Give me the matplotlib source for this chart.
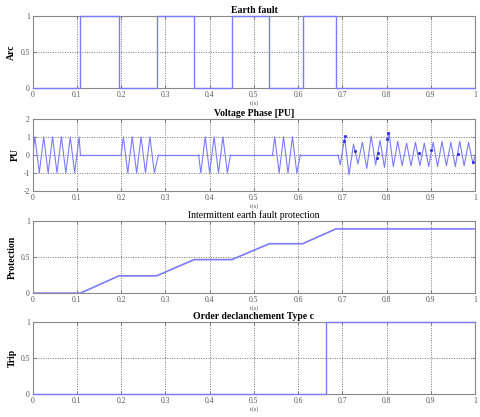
import numpy as np
import matplotlib
matplotlib.use('Agg')
import matplotlib.pyplot as plt

plt.rcParams['font.family'] = ['Liberation Serif', 'DejaVu Serif']
plt.rcParams['axes.unicode_minus'] = False

LINE = '#7b7bff'

# earth fault on/off switching times (s)
fault_on = [0.108, 0.280, 0.450, 0.610]
fault_off = [0.195, 0.365, 0.535, 0.685]

# voltage segments: start, end, and peak value of every half cycle (50 Hz)
seg_start = [0.000, 0.200, 0.375, 0.542, 0.690]
seg_end = [0.108, 0.284, 0.447, 0.605, 1.000]
seg_peaks = [
    [1, -1, 1, -1, 1, -1, 1, -1, 1, -1, 1],
    [1, -1, 1, -1, 1, -1, 1, -1],
    [-1, 1, -1, 1, -1, 1, -1],
    [1, -1, 1, -1, 1, -1],
    [-0.55, 0.95, -1.1, 0.6, -0.5, 0.7, -0.75, 1.05, -0.55, 0.8, -0.7,
     1.25, -0.65, 0.75, -0.6, 0.65, -0.6, 0.7, -0.6, 0.65, -0.65, 0.7,
     -0.65, 0.75, -0.6, 0.7, -0.65, 0.75, -0.6, 0.7, -0.5],
]
# transient spikes after re-energising
spike_t = [0.703, 0.706, 0.728, 0.778, 0.781, 0.800, 0.803, 0.872, 0.899, 0.962, 0.996]
spike_v = [0.75, 1.05, 0.2, -0.15, 0.1, 0.9, 1.2, 0.1, 0.3, 0.05, -0.4]

# protection integrator: breakpoints
prot_t = [0.0, 0.108, 0.195, 0.280, 0.365, 0.450, 0.535, 0.610, 0.685, 1.0]
prot_v = [0.0, 0.0, 0.24, 0.24, 0.465, 0.465, 0.685, 0.685, 0.89, 0.89]

# trip order
trip_time = 0.663

titles = ['Earth fault', 'Voltage Phase [PU]',
          'Intermittent earth fault protection', 'Order declanchement Type c']
ylabels = ['Arc', 'PU', 'Protection', 'Trip']

fig = plt.figure(figsize=(4.8, 4.17), dpi=100)
bottoms = [0.789, 0.542, 0.297, 0.055]
axes = [fig.add_axes([0.068, b, 0.922, 0.173]) for b in bottoms]

# earth fault
t = [0.0]
v = [0]
for on, off in zip(fault_on, fault_off):
    t += [on, on, off, off]
    v += [0, 1, 1, 0]
t.append(1.0)
v.append(0)
axes[0].plot(t, v, color=LINE, lw=1, clip_on=False, zorder=5)

# voltage
for s, e, pk in zip(seg_start, seg_end, seg_peaks):
    tt = [s] + list(s + 0.005 + 0.01 * np.arange(len(pk))) + [e]
    vv = [0] + pk + [0]
    axes[1].plot(tt, vv, color=LINE, lw=0.8)
for i in range(len(seg_start) - 1):
    axes[1].plot([seg_end[i], seg_start[i + 1]], [0, 0], color=LINE, lw=0.9)
axes[1].plot(spike_t, spike_v, ls='none', marker='.', ms=2.5, color='#3535e0')

# protection
axes[2].plot(prot_t, prot_v, color=LINE, lw=1.2)

# trip
axes[3].plot([0, trip_time, trip_time, 1.0], [0, 0, 1, 1], color=LINE, lw=1,
             clip_on=False, zorder=5)

for i, ax in enumerate(axes):
    ax.set_xlim(0, 1)
    if i == 1:
        ax.set_ylim(-2, 2)
        ax.set_yticks([-2, -1, 0, 1, 2])
    else:
        ax.set_ylim(0, 1)
        ax.set_yticks([0, 0.5, 1])
        ax.set_yticklabels(['0', '0.5', '1'])
    ax.set_xticks(np.arange(0, 1.01, 0.1))
    ax.set_xticklabels(['0', '0.1', '0.2', '0.3', '0.4', '0.5', '0.6',
                        '0.7', '0.8', '0.9', '1'])
    ax.tick_params(direction='in', length=2, width=0.5, labelsize=5.5,
                   colors='#555555', pad=2, top=True, right=True)
    ax.grid(True, ls=(0, (1, 1.5)), color='#777777', lw=0.7)
    for sp in ax.spines.values():
        sp.set_color('#888888')
        sp.set_linewidth(0.8)
    ax.set_title(titles[i], fontsize=7, fontweight='normal' if i == 2 else 'bold',
                 pad=2)
    ax.set_ylabel(ylabels[i], fontsize=7, fontweight='bold', labelpad=3)
    ax.set_xlabel('t(s)', fontsize=4.5, labelpad=1, color='#555555')

fig.savefig('out.png', dpi=100)
